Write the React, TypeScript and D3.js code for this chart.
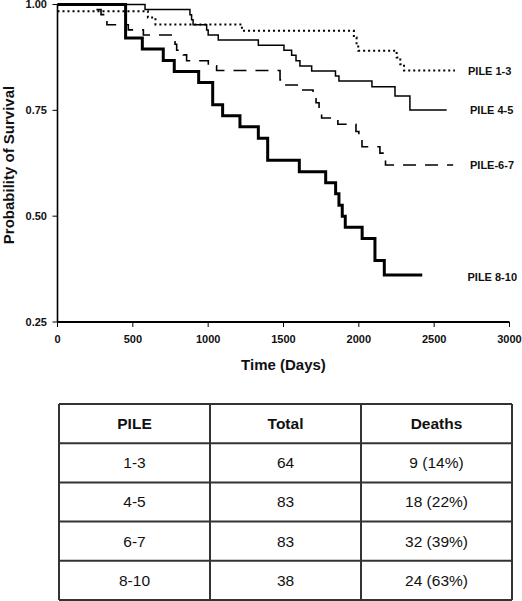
import React from "react";
import * as d3 from "d3";

// ---- Data ----
const pile13Times = [0, 600, 650, 1224, 1967, 1985, 1996, 2251, 2275, 2300];
const pile13Surv = [0.984, 0.969, 0.953, 0.938, 0.922, 0.906, 0.891, 0.875, 0.859, 0.844];
const pile13End = 2638;

const pile45Times = [0, 581, 879, 890, 900, 990, 1000, 1067, 1333, 1503, 1554, 1583, 1609, 1687, 1845, 1868, 2087, 2240, 2339];
const pile45Surv = [1, 0.988, 0.976, 0.964, 0.952, 0.94, 0.928, 0.916, 0.904, 0.892, 0.88, 0.867, 0.855, 0.843, 0.831, 0.819, 0.806, 0.784, 0.751];
const pile45End = 2583;

const pile67Times = [0, 222, 289, 315, 328, 470, 570, 769, 780, 791, 835, 857, 1001, 1056, 1477, 1510, 1603, 1696, 1716, 1736, 1753, 1861, 1981, 2000, 2021, 2140, 2160, 2177];
const pile67Surv = [1, 0.988, 0.976, 0.964, 0.952, 0.94, 0.928, 0.918, 0.906, 0.892, 0.881, 0.867, 0.855, 0.844, 0.822, 0.81, 0.798, 0.784, 0.768, 0.748, 0.732, 0.717, 0.7, 0.685, 0.664, 0.649, 0.635, 0.621];
const pile67End = 2626;

const pile810Times = [0, 452, 563, 702, 775, 937, 1030, 1096, 1211, 1333, 1395, 1605, 1780, 1846, 1868, 1890, 1910, 2022, 2107, 2169];
const pile810Surv = [1, 0.921, 0.895, 0.868, 0.842, 0.816, 0.763, 0.737, 0.711, 0.684, 0.632, 0.605, 0.579, 0.553, 0.526, 0.5, 0.474, 0.447, 0.395, 0.361];
const pile810End = 2421;

const xTicks = [0, 500, 1000, 1500, 2000, 2500, 3000];
const yTicks = [0.25, 0.5, 0.75, 1.0];

const tableHeader = ["PILE", "Total", "Deaths"];
const tablePile = ["1-3", "4-5", "6-7", "8-10"];
const tableTotal = ["64", "83", "83", "38"];
const tableDeaths = ["9 (14%)", "18 (22%)", "32 (39%)", "24 (63%)"];

const FONT = "'Liberation Sans', Arial, Helvetica, sans-serif";

export default function App() {
  const W = 522, H = 601;
  const x = d3.scaleLinear().domain([0, 3000]).range([57.5, 509.5]);
  const y = d3.scaleLinear().domain([0.25, 1]).range([322, 4.5]);

  const mk = (times: number[], surv: number[], end: number) => {
    const pts: [number, number][] = times.map((t, i) => [t, surv[i]]);
    pts.push([end, surv[surv.length - 1]]);
    return pts;
  };
  const line = d3
    .line<[number, number]>()
    .x((d) => x(d[0]))
    .y((d) => y(d[1]))
    .curve(d3.curveStepAfter);

  const series = [
    { name: "PILE 1-3", pts: mk(pile13Times, pile13Surv, pile13End), w: 2, dash: "2 3", lx: 468, ly: 70.7 },
    { name: "PILE 4-5", pts: mk(pile45Times, pile45Surv, pile45End), w: 1.5, dash: undefined, lx: 470, ly: 110 },
    { name: "PILE-6-7", pts: mk(pile67Times, pile67Surv, pile67End), w: 1.6, dash: "13 9", lx: 470, ly: 165 },
    { name: "PILE 8-10", pts: mk(pile810Times, pile810Surv, pile810End), w: 3, dash: undefined, lx: 467.5, ly: 276.7 },
  ];

  // table geometry
  const colEdges = [59, 210, 361, 512];
  const rowScale = d3.scaleLinear().domain([0, 5]).range([404, 600]);
  const rows = [tableHeader, ...tablePile.map((p, i) => [p, tableTotal[i], tableDeaths[i]])];

  return (
    <svg
      width={W}
      height={H}
      style={{ position: "absolute", left: 0, top: 0, display: "block", background: "#fff" }}
      fontFamily={FONT}
    >
      <rect x={0} y={0} width={W} height={H} fill="#fff" />
      {/* curves */}
      {series.map((s) => (
        <path
          key={s.name}
          d={line(s.pts) || ""}
          fill="none"
          stroke="#000"
          strokeWidth={s.w}
          strokeDasharray={s.dash}
          strokeLinejoin="miter"
        />
      ))}
      {/* series labels */}
      {series.map((s) => (
        <text key={s.name + "l"} x={s.lx} y={s.ly} dy="0.35em" fontSize={11} fontWeight="bold" fill="#111">
          {s.name}
        </text>
      ))}
      {/* y axis */}
      <line x1={x(0)} x2={x(0)} y1={y(1)} y2={y(0.25)} stroke="#000" strokeWidth={1.6} />
      {yTicks.map((t) => (
        <g key={"y" + t}>
          <line x1={x(0) - 5} x2={x(0)} y1={y(t)} y2={y(t)} stroke="#000" strokeWidth={1} />
          <text x={47} y={y(t)} dy="0.35em" textAnchor="end" fontSize={11} fontWeight="bold" fill="#111">
            {t.toFixed(2)}
          </text>
        </g>
      ))}
      {/* x axis */}
      <line x1={x(0)} x2={x(3000)} y1={y(0.25)} y2={y(0.25)} stroke="#000" strokeWidth={1.8} />
      {xTicks.map((t) => (
        <g key={"x" + t}>
          <line x1={x(t)} x2={x(t)} y1={y(0.25)} y2={y(0.25) + 5} stroke="#000" strokeWidth={1} />
          <text x={x(t)} y={339} dy="0.35em" textAnchor="middle" fontSize={11} fontWeight="bold" fill="#111">
            {t}
          </text>
        </g>
      ))}
      <text x={(x(0) + x(3000)) / 2} y={365} dy="0.35em" textAnchor="middle" fontSize={15} fontWeight="bold" fill="#111">
        Time (Days)
      </text>
      <text
        transform={`translate(13.5,165) rotate(-90)`}
        textAnchor="middle"
        fontSize={15}
        fontWeight="bold"
        fill="#111"
      >
        Probability of Survival
      </text>
      {/* table */}
      <g stroke="#333" strokeWidth={2}>
        {colEdges.map((cx) => (
          <line key={"c" + cx} x1={cx} x2={cx} y1={rowScale(0)} y2={rowScale(5)} />
        ))}
        {d3.range(6).map((r) => (
          <line key={"r" + r} x1={colEdges[0]} x2={colEdges[3]} y1={rowScale(r)} y2={rowScale(r)} />
        ))}
      </g>
      {rows.map((row, ri) =>
        row.map((cell, ci) => (
          <text
            key={ri + "-" + ci}
            x={(colEdges[ci] + colEdges[ci + 1]) / 2}
            y={(rowScale(ri) + rowScale(ri + 1)) / 2}
            dy="0.35em"
            textAnchor="middle"
            fontSize={15.5}
            fontWeight={ri === 0 ? "bold" : "normal"}
            fill="#111"
          >
            {cell}
          </text>
        ))
      )}
    </svg>
  );
}
